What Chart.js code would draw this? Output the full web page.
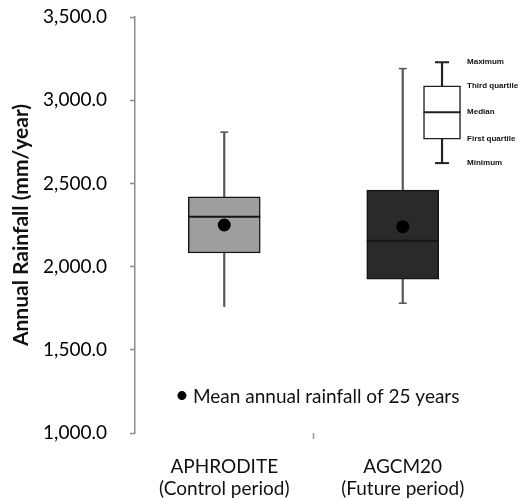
<!DOCTYPE html>
<html>
<head>
<meta charset="utf-8">
<script src="https://cdn.jsdelivr.net/npm/chart.js@4/dist/chart.umd.min.js"></script>
<style>
    html, body { margin: 0; padding: 0; background: #fff; }
    #wrap { width: 529px; height: 499px; }
</style>
</head>
<body>
<div id="wrap"><canvas id="chart"></canvas></div>
<script>
// Box plot values (mm/year)
const categories = [['APHRODITE', '(Control period)'], ['AGCM20', '(Future period)']];
const xPos = [1, 2];
const minimum = [1760, 1780];
const firstQuartile = [2082, 1925];
const median = [2300, 2155];
const thirdQuartile = [2420, 2460];
const maximum = [2808, 3190];
const mean = [2250, 2240];
const boxColors = ['#9e9e9e', '#2a2a2a'];
const minCap = [0, 4];
const maxCap = [4, 4];

// y axis
const yMin = 1000;
const yMax = 3500;
const yStep = 500;

// Schematic key in the top right corner
const keyX = 2.22;
const keyLabels = ['Maximum', 'Third quartile', 'Median', 'First quartile', 'Minimum'];
const keyValues = [3228, 3086, 2928, 2766, 2622];

// Mean marker key
const meanLabel = 'Mean annual rainfall of 25 years';
const meanKeyX = 0.763;
const meanKeyY = 1225;

const FONT = 'Lato';

// Helper: floating bar data from two arrays
const span = (lo, hi) => xPos.map((x, i) => ({ x: x, y: [lo[i], hi[i]] }));
const pts = (vals) => xPos.map((x, i) => ({ x: x, y: vals[i] }));

const keyText = {
    id: 'keyText',
    afterDatasetsDraw(chart) {
        const { ctx, scales: { x, y } } = chart;
        ctx.save();
        ctx.fillStyle = '#111';
        ctx.textBaseline = 'middle';
        ctx.font = 'bold 8px "Liberation Sans"';
        keyLabels.forEach((label, i) => {
            ctx.fillText(label, x.getPixelForValue(keyX) + 25, y.getPixelForValue(keyValues[i]));
        });
        ctx.font = '19px ' + FONT;
        ctx.fillText(meanLabel, x.getPixelForValue(meanKeyX) + 11, y.getPixelForValue(meanKeyY) + 1);
        ctx.restore();
    }
};

const whisker = { type: 'bar', barThickness: 1.5, backgroundColor: '#555', grouped: false, order: 6 };
const flatPoint = { type: 'line', showLine: false, pointStyle: 'line' };

new Chart(document.getElementById('chart'), {
    type: 'bar',
    data: {
        datasets: [
            // lower and upper whiskers
            { ...whisker, data: span(minimum, firstQuartile) },
            { ...whisker, data: span(thirdQuartile, maximum) },
            // boxes
            {
                type: 'bar', data: span(firstQuartile, thirdQuartile),
                backgroundColor: boxColors, borderColor: '#151515', borderWidth: 1.5,
                borderSkipped: false, barThickness: 72, grouped: false, order: 5
            },
            // medians
            { ...flatPoint, data: pts(median), pointRadius: 36, pointBorderWidth: 2, pointBorderColor: '#151515', order: 3 },
            // whisker caps
            { ...flatPoint, data: pts(minimum), pointRadius: minCap, pointBorderWidth: 1.5, pointBorderColor: '#555', order: 3 },
            { ...flatPoint, data: pts(maximum), pointRadius: maxCap, pointBorderWidth: 1.5, pointBorderColor: '#555', order: 3 },
            // means
            {
                type: 'line', showLine: false, data: pts(mean), pointStyle: 'circle',
                pointRadius: 6.5, pointBackgroundColor: '#000', pointBorderWidth: 0, order: 1
            },
            // key: whiskers, box, median, caps
            { ...whisker, backgroundColor: '#222', data: [{ x: keyX, y: [keyValues[4], keyValues[3]] }] },
            { ...whisker, backgroundColor: '#222', data: [{ x: keyX, y: [keyValues[1], keyValues[0]] }] },
            {
                type: 'bar', data: [{ x: keyX, y: [keyValues[3], keyValues[1]] }],
                backgroundColor: '#fff', borderColor: '#222', borderWidth: 1.5,
                borderSkipped: false, barThickness: 37, grouped: false, order: 5
            },
            { ...flatPoint, data: [{ x: keyX, y: keyValues[2] }], pointRadius: 18.5, pointBorderWidth: 2, pointBorderColor: '#222', order: 3 },
            { ...flatPoint, data: [{ x: keyX, y: keyValues[0] }, { x: keyX, y: keyValues[4] }], pointRadius: 7, pointBorderWidth: 2, pointBorderColor: '#222', order: 3 },
            // mean key dot
            {
                type: 'line', showLine: false, data: [{ x: meanKeyX, y: meanKeyY }], pointStyle: 'circle',
                pointRadius: 4.5, pointBackgroundColor: '#000', pointBorderWidth: 0, order: 1
            }
        ]
    },
    options: {
        responsive: true,
        maintainAspectRatio: false,
        animation: false,
        events: [],
        layout: { autoPadding: false, padding: { top: 17, right: 37, left: 0, bottom: 0 } },
        plugins: { legend: { display: false }, tooltip: { enabled: false } },
        scales: {
            x: {
                type: 'linear',
                min: 0.5,
                max: 2.5,
                offset: false,
                afterBuildTicks: (scale) => {
                    scale.ticks = [{ value: 1 }, { value: 1.5 }, { value: 2 }];
                },
                afterFit: (scale) => { scale.height = 66; },
                border: { display: false },
                grid: {
                    offset: false,
                    drawOnChartArea: false,
                    tickLength: 6,
                    tickWidth: 1.5,
                    color: (c) => (c.tick && c.tick.value === 1.5 ? '#999' : 'rgba(0,0,0,0)')
                },
                ticks: {
                    autoSkip: false,
                    maxRotation: 0,
                    padding: 16,
                    color: '#111',
                    font: { family: FONT, size: 19 },
                    callback: (v) => (v === 1 ? categories[0] : v === 2 ? categories[1] : '')
                }
            },
            y: {
                min: yMin,
                max: yMax,
                afterFit: (scale) => {
                    scale.width = 135;
                    scale.paddingTop = 0;
                    scale.paddingBottom = 0;
                },
                border: { display: true, color: '#8c8c8c', width: 1.5 },
                grid: { drawOnChartArea: false, tickLength: 5, tickWidth: 1.5, color: '#8c8c8c' },
                ticks: {
                    stepSize: yStep,
                    padding: 23,
                    color: '#000',
                    font: { family: FONT, size: 19 },
                    callback: (v) => v.toLocaleString('en-US', { minimumFractionDigits: 1, maximumFractionDigits: 1 })
                },
                title: {
                    display: true,
                    text: 'Annual Rainfall (mm/year)',
                    color: '#111',
                    font: { family: FONT, size: 21, weight: 'bold' },
                    padding: { top: 9, bottom: 0 }
                }
            }
        }
    },
    plugins: [keyText]
});
</script>
</body>
</html>
